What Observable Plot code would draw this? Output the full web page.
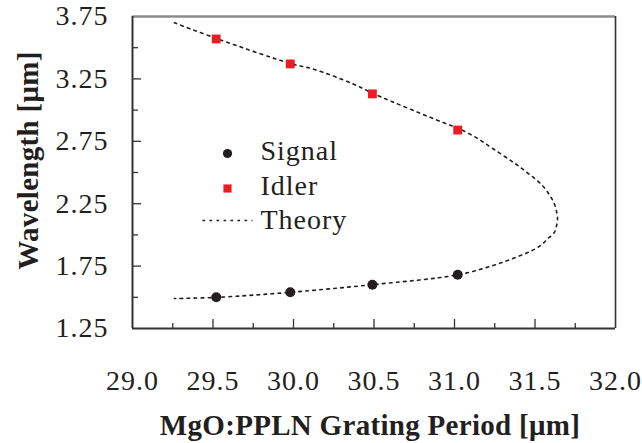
<!DOCTYPE html>
<html>
<head>
<meta charset="utf-8">
<script src="https://cdn.jsdelivr.net/npm/d3@7"></script>
<script src="https://cdn.jsdelivr.net/npm/@observablehq/plot@0.6"></script>
<style>
  html, body { margin: 0; padding: 0; background: #fff; }
  #chart svg { display: block; }
  #chart svg text { font-family: "Liberation Serif", "Times New Roman", serif; letter-spacing: 1px; }
  #chart svg g[font-weight="bold"] text { letter-spacing: 0.3px; }
</style>
</head>
<body>
<div id="chart"></div>
<script>
// Measured OPO tuning: grating period (µm) vs signal / idler wavelength (µm)
const measuredPeriod = [29.52, 29.98, 30.49, 31.02];
const signalWavelength = [1.50, 1.54, 1.60, 1.68];
const idlerWavelength = [3.57, 3.37, 3.13, 2.84];

// Calculated tuning curve, traced from the idler branch through degeneracy to the signal branch
const theoryPeriod = [29.26, 29.53, 29.99, 30.12, 30.37, 30.50, 30.93, 31.03, 31.14, 31.24, 31.35, 31.40,
  31.45, 31.50, 31.55, 31.59, 31.62, 31.635, 31.64, 31.635, 31.62, 31.58, 31.54, 31.49, 31.43, 31.34,
  31.24, 31.02, 30.48, 29.98, 29.53, 29.26];
const theoryWavelength = [3.70, 3.57, 3.37, 3.33, 3.21, 3.13, 2.90, 2.85, 2.775, 2.69, 2.595, 2.55,
  2.50, 2.45, 2.39, 2.32, 2.25, 2.18, 2.13, 2.08, 2.02, 1.97, 1.92, 1.88, 1.845, 1.80,
  1.755, 1.68, 1.60, 1.54, 1.50, 1.49];

// Axis ticks and text
const xLabelTicks = [29.0, 29.5, 30.0, 30.5, 31.0, 31.5, 32.0];
const xMinorTicks = [29.25, 29.75, 30.25, 30.75, 31.25, 31.75];
const xMajorTicks = [29.5, 30.0, 30.5, 31.0, 31.5];
const yLabelTicks = [1.25, 1.75, 2.25, 2.75, 3.25, 3.75];
const yMinorTicks = [1.5, 2.0, 2.5, 3.0, 3.5];
const yMajorTicks = [1.75, 2.25, 2.75, 3.25];
const xTitle = "MgO:PPLN Grating Period [\u03bcm]";
const yTitle = "Wavelength [\u03bcm]";
const legendLabels = ["Signal", "Idler", "Theory"];

const signal = measuredPeriod.map((p, i) => ({period: p, wavelength: signalWavelength[i]}));
const idler = measuredPeriod.map((p, i) => ({period: p, wavelength: idlerWavelength[i]}));
const theory = theoryPeriod.map((p, i) => ({period: p, wavelength: theoryWavelength[i]}));

const ink = "#231f20";
const red = "#ed1c24";
const font = "Liberation Serif, Times New Roman, serif";

const width = 642, height = 443;
const margin = {top: 16, right: 27, bottom: 115, left: 132};
const frameW = width - margin.left - margin.right;
const frameH = height - margin.top - margin.bottom;

// short horizontal dotted segment used as the legend key for the curve
const segmentSymbol = {
  draw(context) { context.moveTo(-25, 0); context.lineTo(25, 0); }
};

const textStyle = {fontFamily: font, fill: ink};

const chart = Plot.plot({
  width, height,
  marginTop: margin.top, marginRight: margin.right,
  marginBottom: margin.bottom, marginLeft: margin.left,
  style: {fontFamily: font, fontSize: "28px", color: ink, background: "#fff"},
  x: {domain: [29, 32]},
  y: {domain: [1.25, 3.75]},
  marks: [
    // inward tick marks
    Plot.tickX(xMinorTicks, {x: d => d, insetTop: frameH - 5, stroke: "#333", strokeWidth: 1.3}),
    Plot.tickX(xMajorTicks, {x: d => d, insetTop: frameH - 9, stroke: "#333", strokeWidth: 1.3}),
    Plot.tickY(yMinorTicks, {y: d => d, insetRight: frameW - 6, stroke: "#333", strokeWidth: 1.3}),
    Plot.tickY(yMajorTicks, {y: d => d, insetRight: frameW - 9, stroke: "#333", strokeWidth: 1.3}),
    // frame
    Plot.ruleY([3.75], {stroke: "#8c8c8c", strokeWidth: 2.5}),
    Plot.ruleX([29], {stroke: "#333", strokeWidth: 2}),
    Plot.ruleX([32], {stroke: "#333", strokeWidth: 1.6}),
    Plot.ruleY([1.25], {stroke: "#333", strokeWidth: 2}),
    // tick labels
    Plot.axisX({ticks: xLabelTicks, tickFormat: d3.format(".1f"), tickSize: 0, tickPadding: 42,
      label: null, fontSize: 28, ...textStyle}),
    Plot.axisY({ticks: yLabelTicks, tickFormat: d3.format(".2f"), tickSize: 0, tickPadding: 24,
      label: null, fontSize: 28, ...textStyle}),
    // axis titles
    Plot.text([xTitle], {frameAnchor: "bottom", textAnchor: "middle", lineAnchor: "middle",
      dx: -4, dy: 97, fontWeight: "bold", fontSize: 29, ...textStyle}),
    Plot.text([yTitle], {frameAnchor: "left", textAnchor: "middle", lineAnchor: "middle", rotate: -90,
      dx: -104, dy: -12, fontWeight: "bold", fontSize: 29, ...textStyle}),
    // data
    Plot.line(theory, {x: "period", y: "wavelength", curve: "catmull-rom", stroke: ink,
      strokeWidth: 1.6, strokeDasharray: "2.6,4.4"}),
    Plot.dot(signal, {x: "period", y: "wavelength", r: 5, fill: ink}),
    Plot.dot(idler, {x: "period", y: "wavelength", r: 5, symbol: "square", fill: red}),
    // legend
    Plot.dot([legendLabels[0]], {frameAnchor: "top-left", dx: 95, dy: 137, r: 4.6, fill: ink}),
    Plot.dot([legendLabels[1]], {frameAnchor: "top-left", dx: 95, dy: 172, r: 4.6, symbol: "square", fill: red}),
    Plot.dot([legendLabels[2]], {frameAnchor: "top-left", dx: 95, dy: 204, symbol: segmentSymbol, r: 5,
      stroke: ink, strokeWidth: 1.6, strokeDasharray: "2.6,4.4", fill: "none"}),
    Plot.text([legendLabels[0]], {frameAnchor: "top-left", textAnchor: "start", lineAnchor: "middle",
      dx: 128, dy: 135, fontSize: 28, ...textStyle}),
    Plot.text([legendLabels[1]], {frameAnchor: "top-left", textAnchor: "start", lineAnchor: "middle",
      dx: 128, dy: 170, fontSize: 28, ...textStyle}),
    Plot.text([legendLabels[2]], {frameAnchor: "top-left", textAnchor: "start", lineAnchor: "middle",
      dx: 128, dy: 204, fontSize: 28, ...textStyle})
  ]
});

document.getElementById("chart").append(chart);
</script>
</body>
</html>
